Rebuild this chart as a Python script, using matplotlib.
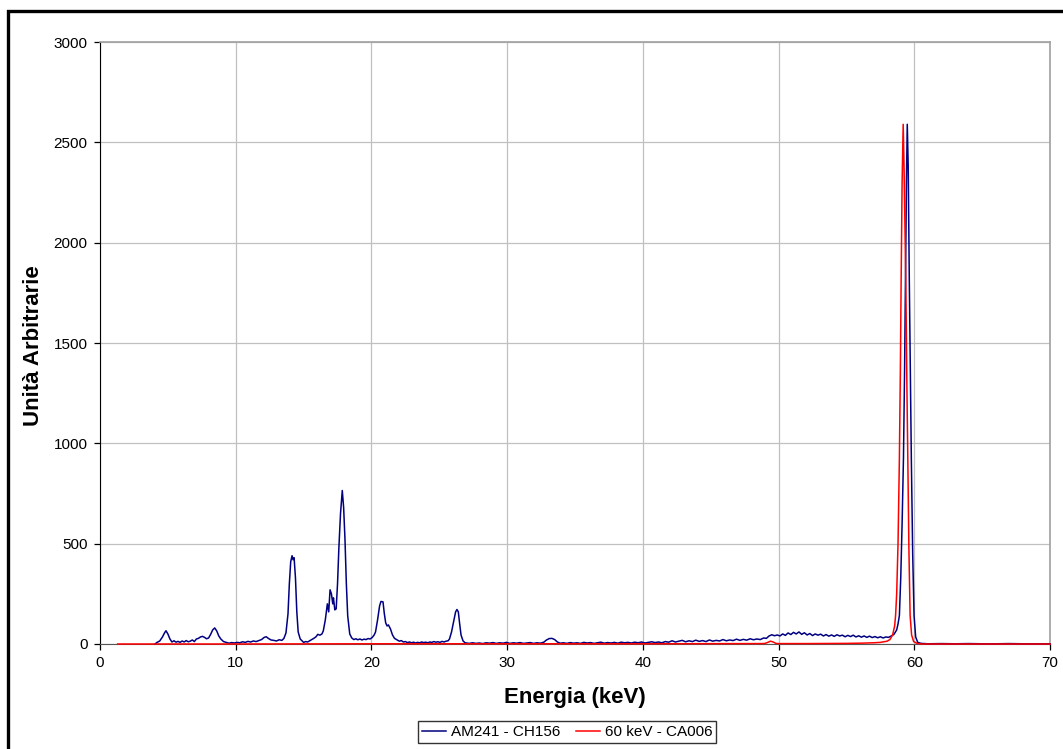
import matplotlib
matplotlib.use("Agg")
import matplotlib.pyplot as plt
from matplotlib.patches import Rectangle

plt.rcParams['font.family'] = ['Liberation Sans', 'DejaVu Sans']

# AM241 - CH156 spectrum, (energy keV, counts)
am241 = [(4.05, 0), (4.2, 8), (4.4, 15), (4.6, 35), (4.75, 55), (4.86, 66), (5.0, 50), (5.15, 25),
         (5.3, 10), (5.45, 16), (5.6, 9), (5.75, 13), (5.9, 8), (6.05, 15), (6.2, 10), (6.35, 17),
         (6.5, 11), (6.65, 14), (6.8, 20), (6.95, 12), (7.1, 25), (7.25, 28), (7.4, 35), (7.55, 38),
         (7.7, 33), (7.85, 26), (8.0, 30), (8.15, 48), (8.3, 70), (8.45, 80), (8.6, 65), (8.75, 40),
         (8.9, 25), (9.1, 12), (9.3, 8), (9.5, 4), (9.7, 7), (9.9, 5), (10.1, 8), (10.3, 6),
         (10.5, 11), (10.7, 8), (10.9, 13), (11.1, 10), (11.3, 15), (11.5, 12), (11.7, 17),
         (11.9, 22), (12.1, 33), (12.25, 36), (12.4, 28), (12.6, 20), (12.8, 18), (13.0, 15),
         (13.2, 21), (13.4, 18), (13.55, 28), (13.7, 55), (13.85, 150), (13.95, 300), (14.05, 410),
         (14.15, 440), (14.22, 420), (14.3, 430), (14.4, 330), (14.5, 160), (14.6, 60), (14.75, 25),
         (15.0, 8), (15.15, 12), (15.3, 10), (15.45, 16), (15.6, 22), (15.75, 28), (15.9, 35),
         (16.05, 48), (16.2, 44), (16.35, 50), (16.45, 65), (16.6, 120), (16.75, 200), (16.85, 160),
         (16.95, 270), (17.05, 250), (17.15, 200), (17.2, 230), (17.3, 170), (17.4, 175),
         (17.5, 300), (17.6, 480), (17.72, 650), (17.85, 765), (17.95, 680), (18.05, 520),
         (18.15, 300), (18.25, 140), (18.4, 50), (18.55, 30), (18.7, 22), (18.85, 26), (19.0, 21),
         (19.15, 25), (19.3, 20), (19.45, 24), (19.6, 22), (19.75, 27), (19.9, 25), (20.05, 32),
         (20.2, 45), (20.3, 60), (20.45, 120), (20.6, 190), (20.7, 212), (20.85, 210), (20.95, 150),
         (21.05, 105), (21.15, 90), (21.25, 95), (21.4, 75), (21.55, 45), (21.7, 28), (21.9, 20),
         (22.05, 14), (22.2, 17), (22.35, 10), (22.5, 12), (22.65, 7), (22.8, 10), (22.95, 6),
         (23.1, 9), (23.25, 5), (23.4, 8), (23.55, 6), (23.7, 10), (23.85, 7), (24.0, 9),
         (24.15, 6), (24.3, 10), (24.45, 8), (24.6, 12), (24.75, 9), (24.9, 11), (25.05, 8),
         (25.2, 13), (25.35, 10), (25.5, 14), (25.65, 16), (25.75, 25), (25.9, 60), (26.05, 110),
         (26.2, 160), (26.3, 172), (26.4, 160), (26.5, 100), (26.6, 45), (26.75, 15), (26.9, 6),
         (27.2, 3), (27.45, 6), (27.7, 3), (27.95, 5), (28.2, 2), (28.45, 6), (28.7, 4), (28.95, 7),
         (29.2, 3), (29.45, 6), (29.7, 4), (29.95, 8), (30.2, 3), (30.45, 6), (30.7, 4), (30.95, 7),
         (31.2, 3), (31.45, 5), (31.7, 7), (31.95, 3), (32.2, 6), (32.45, 4), (32.7, 9), (32.9, 20),
         (33.1, 27), (33.3, 28), (33.5, 22), (33.7, 10), (33.9, 4), (34.15, 6), (34.4, 3),
         (34.65, 7), (34.9, 4), (35.15, 6), (35.4, 3), (35.65, 8), (35.9, 5), (36.15, 7), (36.4, 3),
         (36.65, 6), (36.9, 9), (37.15, 4), (37.4, 7), (37.65, 5), (37.9, 8), (38.15, 4), (38.4, 9),
         (38.65, 6), (38.9, 8), (39.15, 5), (39.4, 9), (39.65, 6), (39.9, 10), (40.15, 5),
         (40.4, 8), (40.65, 11), (40.9, 7), (41.15, 10), (41.4, 6), (41.65, 12), (41.9, 9),
         (42.15, 16), (42.4, 10), (42.65, 14), (42.9, 18), (43.15, 11), (43.4, 16), (43.65, 12),
         (43.9, 19), (44.15, 13), (44.4, 17), (44.65, 12), (44.9, 20), (45.15, 14), (45.4, 18),
         (45.65, 15), (45.9, 22), (46.15, 16), (46.4, 20), (46.65, 17), (46.9, 24), (47.15, 18),
         (47.4, 23), (47.65, 19), (47.9, 26), (48.15, 21), (48.4, 25), (48.65, 22), (48.9, 30),
         (49.1, 28), (49.3, 40), (49.5, 46), (49.7, 41), (49.9, 45), (50.1, 40), (50.3, 50),
         (50.5, 43), (50.7, 55), (50.9, 47), (51.1, 58), (51.3, 50), (51.5, 60), (51.7, 48),
         (51.9, 56), (52.1, 45), (52.3, 52), (52.5, 42), (52.7, 50), (52.9, 44), (53.1, 49),
         (53.3, 40), (53.5, 47), (53.7, 39), (53.9, 45), (54.1, 38), (54.3, 46), (54.5, 40),
         (54.7, 44), (54.9, 36), (55.1, 43), (55.3, 37), (55.5, 44), (55.7, 35), (55.9, 41),
         (56.1, 34), (56.3, 40), (56.5, 33), (56.7, 39), (56.9, 32), (57.1, 37), (57.3, 31),
         (57.5, 36), (57.7, 30), (57.9, 35), (58.1, 33), (58.3, 40), (58.5, 48), (58.7, 70),
         (58.8, 100), (58.9, 142), (59.0, 330), (59.1, 600), (59.2, 925), (59.28, 1350),
         (59.35, 1815), (59.42, 2300), (59.48, 2590), (59.55, 2380), (59.63, 1815), (59.7, 1380),
         (59.78, 925), (59.88, 450), (59.98, 142), (60.1, 35), (60.25, 8), (60.5, 3), (61.0, 1),
         (62.0, 2), (63.0, 1), (64.0, 2), (65.0, 1), (66.0, 1), (67.0, 2), (68.0, 1), (69.0, 1),
         (70.0, 1)]
energy_blue = [p[0] for p in am241]
counts_blue = [p[1] for p in am241]

# 60 keV - CA006 line
energy_red = [1.3, 10.0, 20.0, 30.0, 40.0, 48.8, 49.0, 49.2, 49.4, 49.6, 49.8, 50.0, 52.0,
              55.0, 56.0, 57.0, 57.5, 58.0, 58.2, 58.4, 58.55, 58.62, 58.7, 58.8, 58.9,
              58.97, 59.03, 59.1, 59.18, 59.25, 59.37, 59.45, 59.52, 59.6, 59.69, 59.8,
              59.95, 60.2, 60.5, 70.0]
counts_red = [0, 0, 1, 1, 1, 2, 3, 8, 14, 10, 3, 2, 2,
              3, 4, 6, 8, 14, 22, 45, 90, 142, 250, 500, 925,
              1350, 1815, 2300, 2590, 2350, 1815, 1300, 925, 480, 142, 45,
              12, 3, 0, 0]

labels = ['AM241 - CH156', '60 keV - CA006']

fig = plt.figure(figsize=(10.63, 7.49), dpi=100)
ax = fig.add_axes([0.0941, 0.1402, 0.8937, 0.8037])

ax.plot(energy_blue, counts_blue, color='#000080', lw=1.1, label=labels[0], zorder=3, clip_on=False)
ax.plot(energy_red, counts_red, color='#ff0000', lw=1.1, label=labels[1], zorder=3, clip_on=False)

ax.set_xlim(0, 70)
ax.set_ylim(0, 3000)
ax.set_xticks(range(0, 71, 10))
ax.set_yticks(range(0, 3001, 500))
ax.grid(True, color='#c0c0c0', lw=0.9)
ax.set_axisbelow(True)
ax.tick_params(direction='out', length=4, width=0.9, labelsize=11, pad=5, color='black')

ax.spines['left'].set_color('black')
ax.spines['bottom'].set_color('#555555')
for s in ['top', 'right']:
    ax.spines[s].set_color('#a0a0a0')
    ax.spines[s].set_linewidth(1.2)

fig.text(575 / 1063, 1 - 698 / 749, 'Energia (keV)', ha='center', va='center',
         fontsize=16, fontweight='bold')
fig.text(34 / 1063, 1 - 346 / 749, 'Unità Arbitrarie', ha='center', va='center',
         rotation=90, fontsize=16, fontweight='bold')

leg = fig.legend(loc='center', bbox_to_anchor=(567 / 1063, 1 - 732 / 749), ncol=2,
                 fontsize=11, frameon=True, fancybox=False, handlelength=1.6,
                 handletextpad=0.3, columnspacing=1.0, borderpad=0.25, borderaxespad=0)
leg.get_frame().set_edgecolor('black')
leg.get_frame().set_linewidth(1.0)

# outer chart border (cut off on the right and bottom)
fig.patches.append(Rectangle((8 / 1063, -0.1), 1.2, 1.1 - 11 / 749, transform=fig.transFigure,
                             fill=False, lw=2.4, edgecolor='black'))

fig.savefig('out.png', dpi=100)
